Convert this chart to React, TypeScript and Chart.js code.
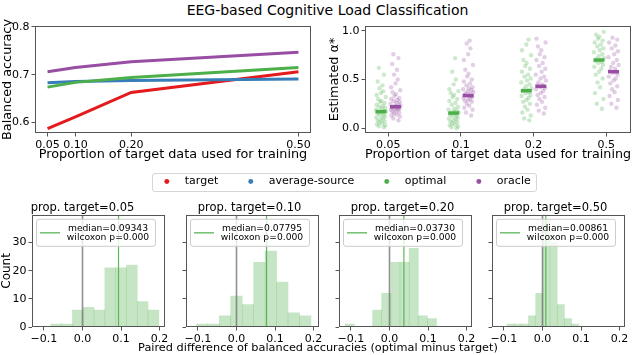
import React, { useEffect, useRef } from 'react';
import { Chart, registerables } from 'chart.js';
Chart.register(...registerables);

// ---------------- data ----------------
const suptitle = 'EEG-based Cognitive Load Classification';

// top-left: balanced accuracy vs proportion of target data
const proportions = [0.05, 0.1, 0.2, 0.5];
const targetAcc = [0.587, 0.612, 0.663, 0.706];
const avgSourceAcc = [0.683, 0.686, 0.688, 0.691];
const optimalAcc = [0.674, 0.684, 0.694, 0.715];
const oracleAcc = [0.706, 0.715, 0.727, 0.747];
const accTicks = [0.6, 0.7, 0.8];

// top-right: estimated alpha*
const propLabels = ['0.05', '0.1', '0.2', '0.5'];
const alphaOptimal005 = [0.01, 0.02, 0.03, 0.04, 0.05, 0.06, 0.07, 0.08, 0.09, 0.1, 0.11, 0.12, 0.13, 0.14, 0.15, 0.16, 0.16, 0.17, 0.17, 0.18, 0.19, 0.2, 0.21, 0.22, 0.23, 0.24, 0.26, 0.27, 0.28, 0.3, 0.32, 0.34, 0.36, 0.38, 0.41, 0.44, 0.48, 0.55, 0.62];
const alphaOracle005 = [0.08, 0.1, 0.12, 0.13, 0.14, 0.15, 0.16, 0.17, 0.18, 0.19, 0.19, 0.2, 0.2, 0.21, 0.21, 0.22, 0.22, 0.23, 0.23, 0.24, 0.25, 0.26, 0.27, 0.28, 0.29, 0.3, 0.31, 0.33, 0.35, 0.37, 0.39, 0.42, 0.46, 0.5, 0.55, 0.6, 0.66, 0.72, 0.76];
const alphaOptimal01 = [0.0, 0.01, 0.02, 0.03, 0.04, 0.05, 0.06, 0.07, 0.08, 0.09, 0.1, 0.11, 0.12, 0.13, 0.14, 0.15, 0.15, 0.16, 0.17, 0.18, 0.19, 0.2, 0.22, 0.24, 0.26, 0.28, 0.3, 0.32, 0.34, 0.36, 0.38, 0.4, 0.45, 0.5, 0.58, 0.72];
const alphaOracle01 = [0.13, 0.16, 0.19, 0.21, 0.23, 0.25, 0.27, 0.28, 0.29, 0.3, 0.31, 0.32, 0.33, 0.33, 0.34, 0.35, 0.36, 0.37, 0.38, 0.39, 0.4, 0.41, 0.42, 0.44, 0.46, 0.48, 0.5, 0.53, 0.56, 0.6, 0.65, 0.7, 0.76, 0.82, 0.87, 0.9];
const alphaOptimal02 = [0.08, 0.1, 0.13, 0.16, 0.19, 0.22, 0.25, 0.27, 0.29, 0.31, 0.33, 0.34, 0.36, 0.37, 0.38, 0.39, 0.4, 0.41, 0.43, 0.45, 0.47, 0.49, 0.51, 0.53, 0.55, 0.58, 0.61, 0.64, 0.67, 0.7, 0.75, 0.8, 0.86, 0.91];
const alphaOracle02 = [0.15, 0.18, 0.21, 0.24, 0.27, 0.3, 0.32, 0.34, 0.36, 0.38, 0.4, 0.41, 0.42, 0.43, 0.44, 0.45, 0.47, 0.49, 0.51, 0.53, 0.55, 0.58, 0.61, 0.64, 0.67, 0.7, 0.73, 0.76, 0.8, 0.84, 0.88, 0.92];
const alphaOptimal05 = [0.2, 0.25, 0.3, 0.36, 0.42, 0.47, 0.51, 0.55, 0.58, 0.61, 0.63, 0.65, 0.67, 0.68, 0.69, 0.7, 0.71, 0.72, 0.74, 0.76, 0.78, 0.8, 0.82, 0.84, 0.86, 0.88, 0.9, 0.92, 0.94, 0.96, 0.99];
const alphaOracle05 = [0.21, 0.25, 0.29, 0.33, 0.37, 0.4, 0.43, 0.46, 0.49, 0.51, 0.53, 0.55, 0.57, 0.58, 0.59, 0.61, 0.63, 0.65, 0.67, 0.7, 0.73, 0.76, 0.79, 0.82, 0.85, 0.88, 0.91, 0.93];
const alphaOptimal = [alphaOptimal005, alphaOptimal01, alphaOptimal02, alphaOptimal05];
const alphaOracle = [alphaOracle005, alphaOracle01, alphaOracle02, alphaOracle05];
const medianOptimal = [0.17, 0.155, 0.385, 0.7];
const medianOracle = [0.22, 0.335, 0.43, 0.58];
const stripJitter = [0.04, -0.03, 0.06, -0.055, 0.015, -0.02, 0.05, -0.045, 0.0, 0.03, -0.065, 0.055, -0.01, 0.035, -0.05, 0.02, -0.035, 0.07, -0.005, 0.045, -0.07, 0.01, 0.06, -0.025, 0.025, -0.06, 0.05, -0.015, 0.005, -0.04, 0.065, -0.06, 0.0, 0.03, -0.02, 0.02, -0.045, 0.04, -0.03, 0.07];
const alphaTicks = [0, 0.5, 1.0];

// legend
const seriesNames = ['target', 'average-source', 'optimal', 'oracle'];

// bottom: histograms of paired differences
const histTitles = ['prop. target=0.05', 'prop. target=0.10', 'prop. target=0.20', 'prop. target=0.50'];
const histBinStart = [-0.082, -0.104, -0.115, -0.092];
const histBinWidth = [0.028, 0.0297, 0.0237, 0.0186];
const histCounts005 = [1, 1, 6, 7, 6, 21, 21, 22, 9, 6];
const histCounts010 = [1, 1, 4, 11, 8, 23, 27, 16, 5, 4];
const histCounts020 = [1, 0, 0, 6, 12, 23, 23, 28, 4, 3];
const histCounts050 = [1, 1, 1, 4, 12, 38, 30, 8, 3, 1];
const histCounts = [histCounts005, histCounts010, histCounts020, histCounts050];
const histMedians = [0.09343, 0.07795, 0.0373, 0.00861];
const histWilcoxonP = ['0.000', '0.000', '0.000', '0.000'];
const countTicks = [0, 10, 20, 30];
const diffTicks = [-0.1, 0.0, 0.1, 0.2];
const histXLabel = 'Paired difference of balanced accuracies (optimal minus target)';

// ---------------- styling ----------------
const FAMILY = "'DejaVu Sans', sans-serif";
const RED = '#e41a1c';
const BLUE = '#377eb8';
const GREEN = '#4daf4a';
const PURPLE = '#984ea3';
const FRAME = '#555555';
const seriesColors = [RED, BLUE, GREEN, PURPLE];
const DODGE = 0.1;
const HIST_YMAX = 39.9;

const framePlugin = {
  id: 'frame',
  afterDatasetsDraw(chart: any) {
    const { ctx, chartArea: a } = chart;
    ctx.save();
    ctx.strokeStyle = FRAME;
    ctx.lineWidth = 1;
    ctx.strokeRect(Math.round(a.left) + 0.5, Math.round(a.top) + 0.5, Math.round(a.right - a.left) - 1, Math.round(a.bottom - a.top) - 1);
    ctx.restore();
  },
};

function histLegendPlugin(line1: string, line2: string) {
  return {
    id: 'histLegend',
    afterDraw(chart: any) {
      const { ctx, chartArea: a } = chart;
      const x = a.left + 4.5, y = a.top + 4.5, w = 119, h = 27;
      ctx.save();
      ctx.beginPath();
      const r = 2.5;
      ctx.moveTo(x + r, y);
      ctx.lineTo(x + w - r, y);
      ctx.quadraticCurveTo(x + w, y, x + w, y + r);
      ctx.lineTo(x + w, y + h - r);
      ctx.quadraticCurveTo(x + w, y + h, x + w - r, y + h);
      ctx.lineTo(x + r, y + h);
      ctx.quadraticCurveTo(x, y + h, x, y + h - r);
      ctx.lineTo(x, y + r);
      ctx.quadraticCurveTo(x, y, x + r, y);
      ctx.closePath();
      ctx.fillStyle = 'rgba(255,255,255,0.8)';
      ctx.fill();
      ctx.strokeStyle = '#cccccc';
      ctx.lineWidth = 1;
      ctx.stroke();
      ctx.beginPath();
      ctx.moveTo(a.left + 8, y + h / 2);
      ctx.lineTo(a.left + 28, y + h / 2);
      ctx.strokeStyle = GREEN;
      ctx.globalAlpha = 0.8;
      ctx.lineWidth = 1.5;
      ctx.stroke();
      ctx.globalAlpha = 1;
      ctx.fillStyle = '#000';
      ctx.font = `9.2px ${FAMILY}`;
      ctx.textAlign = 'center';
      ctx.textBaseline = 'middle';
      ctx.fillText(line1, a.left + 76, y + 9);
      ctx.fillText(line2, a.left + 76, y + 18.5);
      ctx.restore();
    },
  };
}

function axis(o: {
  min: number; max: number; ticks: number[]; fmt: (v: number) => string; size: number;
  fontSize: number; title?: string; titleSize?: number; titlePad?: number;
}) {
  return {
    type: 'linear',
    min: o.min,
    max: o.max,
    offset: false,
    afterBuildTicks: (s: any) => { s.ticks = o.ticks.map((v) => ({ value: v })); },
    afterFit: (s: any) => { if (s.isHorizontal()) s.height = o.size; else s.width = o.size; },
    ticks: {
      callback: (v: any) => o.fmt(Number(v)),
      font: { family: FAMILY, size: o.fontSize },
      color: '#000',
      padding: 2,
      maxRotation: 0,
      minRotation: 0,
      autoSkip: false,
    },
    grid: { display: true, offset: false, drawOnChartArea: false, drawTicks: true, tickLength: 3.5, tickColor: FRAME, color: FRAME },
    border: { display: false },
    title: o.title
      ? { display: true, text: o.title, color: '#000', font: { family: FAMILY, size: o.titleSize }, padding: { top: o.titlePad || 0, bottom: o.titlePad || 0 } }
      : { display: false },
  };
}

const minusFmt = (v: number, d: number) => (v < -1e-9 ? '\u2212' + Math.abs(v).toFixed(d) : Math.abs(v).toFixed(d));

type Box = { left: number; top: number; width: number; height: number };

function ChartCanvas({ box, make }: { box: Box; make: () => any }) {
  const ref = useRef<HTMLCanvasElement>(null);
  useEffect(() => {
    const chart = new Chart(ref.current as HTMLCanvasElement, make());
    return () => chart.destroy();
  }, []);
  return (
    <div style={{ position: 'absolute', left: box.left, top: box.top, width: box.width, height: box.height }}>
      <canvas ref={ref} width={box.width} height={box.height} style={{ width: box.width, height: box.height, display: 'block' }} />
    </div>
  );
}

const baseOptions = {
  responsive: false,
  maintainAspectRatio: false,
  animation: false,
  events: [] as string[],
};

// ---------------- chart configs ----------------
function makeAccuracy() {
  const series = [targetAcc, avgSourceAcc, optimalAcc, oracleAcc];
  return {
    type: 'line',
    data: {
      datasets: series.map((vals, i) => ({
        label: seriesNames[i],
        data: proportions.map((p, k) => ({ x: p, y: vals[k] })),
        borderColor: seriesColors[i],
        backgroundColor: seriesColors[i],
        borderWidth: 3,
        pointRadius: 0,
        tension: 0,
        order: 4 - i,
      })),
    },
    options: {
      ...baseOptions,
      layout: { padding: { top: 14, right: 9, left: 0, bottom: 0 } },
      plugins: { legend: { display: false }, tooltip: { enabled: false } },
      scales: {
        x: axis({ min: 0.0275, max: 0.5225, ticks: proportions, fmt: (v) => v.toFixed(2), size: 29, fontSize: 11, title: 'Proportion of target data used for training', titleSize: 12.8 }),
        y: axis({ min: 0.578, max: 0.802, ticks: accTicks, fmt: (v) => v.toFixed(1), size: 35, fontSize: 11, title: 'Balanced accuracy', titleSize: 12.8 }),
      },
    },
    plugins: [framePlugin],
  };
}

function makeAlpha() {
  const pts = (groups: number[][], off: number) =>
    groups.flatMap((vals, c) => vals.map((v, k) => ({ x: c + off + stripJitter[k % stripJitter.length], y: v })));
  return {
    type: 'scatter',
    data: {
      datasets: [
        { label: 'optimal median', data: medianOptimal.map((m, c) => ({ x: c - DODGE, y: m })), pointStyle: 'line', pointRadius: 5.5, borderColor: GREEN, borderWidth: 3.5, backgroundColor: GREEN },
        { label: 'oracle median', data: medianOracle.map((m, c) => ({ x: c + DODGE, y: m })), pointStyle: 'line', pointRadius: 5.5, borderColor: PURPLE, borderWidth: 3.5, backgroundColor: PURPLE },
        { label: 'oracle', data: pts(alphaOracle, DODGE), pointRadius: 2.2, borderWidth: 0, backgroundColor: 'rgba(152,78,163,0.28)' },
        { label: 'optimal', data: pts(alphaOptimal, -DODGE), pointRadius: 2.2, borderWidth: 0, backgroundColor: 'rgba(77,175,74,0.28)' },
      ],
    },
    options: {
      ...baseOptions,
      layout: { padding: { top: 14, right: 2, left: 0, bottom: 0 } },
      plugins: { legend: { display: false }, tooltip: { enabled: false } },
      scales: {
        x: axis({ min: -0.32, max: 3.34, ticks: [0, 1, 2, 3], fmt: (v) => propLabels[Math.round(v)], size: 29, fontSize: 11, title: 'Proportion of target data used for training', titleSize: 12.8 }),
        y: axis({ min: -0.05, max: 1.05, ticks: alphaTicks, fmt: (v) => v.toFixed(1), size: 45, fontSize: 11, title: 'Estimated \u03b1*', titleSize: 12.8, titlePad: 7 }),
      },
    },
    plugins: [framePlugin],
  };
}

function makeLegend() {
  return {
    type: 'scatter',
    data: {
      datasets: seriesNames.map((n, i) => ({
        label: '  ' + n,
        data: [] as any[],
        backgroundColor: seriesColors[i],
        borderColor: seriesColors[i],
        borderWidth: 0,
        pointStyle: 'circle',
      })),
    },
    options: {
      ...baseOptions,
      layout: { padding: 0 },
      scales: { x: { display: false }, y: { display: false } },
      plugins: {
        tooltip: { enabled: false },
        legend: {
          display: true,
          position: 'top',
          align: 'center',
          labels: {
            usePointStyle: true,
            pointStyle: 'circle',
            boxHeight: 3.5,
            padding: 27,
            color: '#000',
            font: { family: FAMILY, size: 11 },
          },
        },
      },
    },
  };
}

function makeHist(i: number) {
  const start = histBinStart[i];
  const w = histBinWidth[i];
  const counts = histCounts[i];
  const m = histMedians[i];
  return {
    type: 'bar',
    data: {
      datasets: [
        { type: 'line', label: 'median', data: [{ x: m, y: 0 }, { x: m, y: HIST_YMAX }], borderColor: 'rgba(77,175,74,0.9)', borderWidth: 1.2, pointRadius: 0 },
        { type: 'line', label: 'zero', data: [{ x: 0, y: 0 }, { x: 0, y: HIST_YMAX }], borderColor: 'rgba(110,110,110,0.75)', borderWidth: 1.6, pointRadius: 0 },
        {
          type: 'bar',
          label: 'count',
          data: counts.map((c, k) => ({ x: start + (k + 0.5) * w, y: c })),
          backgroundColor: 'rgba(77,175,74,0.32)',
          borderWidth: 0,
          barPercentage: 1,
          categoryPercentage: 1,
        },
      ],
    },
    options: {
      ...baseOptions,
      layout: { padding: { top: 1, right: 8, left: 0, bottom: 0 } },
      plugins: {
        legend: { display: false },
        tooltip: { enabled: false },
        title: { display: true, text: histTitles[i], color: '#000', font: { family: FAMILY, size: 11.5, weight: 'normal' }, padding: { top: 0, bottom: 0 } },
      },
      scales: {
        x: axis({ min: -0.131, max: 0.214, ticks: diffTicks, fmt: (v) => minusFmt(v, 1), size: 16, fontSize: 11 }),
        y: i === 0
          ? axis({ min: 0, max: HIST_YMAX, ticks: countTicks, fmt: (v) => String(Math.round(v)), size: 32, fontSize: 11, title: 'Count', titleSize: 12 })
          : axis({ min: 0, max: HIST_YMAX, ticks: countTicks, fmt: () => '', size: 6, fontSize: 11 }),
      },
    },
    plugins: [framePlugin, histLegendPlugin(`median=${histMedians[i].toFixed(5)}`, `wilcoxon p=${histWilcoxonP[i]}`)],
  };
}

const histLefts = [32, 186, 339, 492];
const HIST_W = 132.5;

export default function App() {
  return (
    <div style={{ position: 'fixed', left: 0, top: 0, width: 640, height: 355, overflow: 'hidden', background: '#fff', fontFamily: FAMILY }}>
      <div style={{ position: 'absolute', left: 0, top: 1, width: 655, textAlign: 'center', fontSize: 14, lineHeight: '18px', color: '#000', whiteSpace: 'nowrap' }}>
        {suptitle}
      </div>
      <ChartCanvas box={{ left: 0, top: 12, width: 320, height: 150 }} make={makeAccuracy} />
      <ChartCanvas box={{ left: 320, top: 12, width: 320, height: 150 }} make={makeAlpha} />
      <div style={{ position: 'absolute', left: 152, top: 173, width: 385, height: 19, boxSizing: 'border-box', border: '1px solid #d6d6d6', borderRadius: 3, background: '#fff' }} />
      <ChartCanvas box={{ left: 96, top: 149, width: 500, height: 90 }} make={makeLegend} />
      {histLefts.map((L, i) => {
        const left = i === 0 ? 0 : L - 6;
        const width = Math.round(L + HIST_W + 8 - left);
        return <ChartCanvas key={i} box={{ left, top: 200, width, height: 143 }} make={() => makeHist(i)} />;
      })}
      <div style={{ position: 'absolute', left: 0, top: 340, width: 636, textAlign: 'center', fontSize: 11.3, lineHeight: '15px', color: '#000', whiteSpace: 'nowrap' }}>
        {histXLabel}
      </div>
    </div>
  );
}
